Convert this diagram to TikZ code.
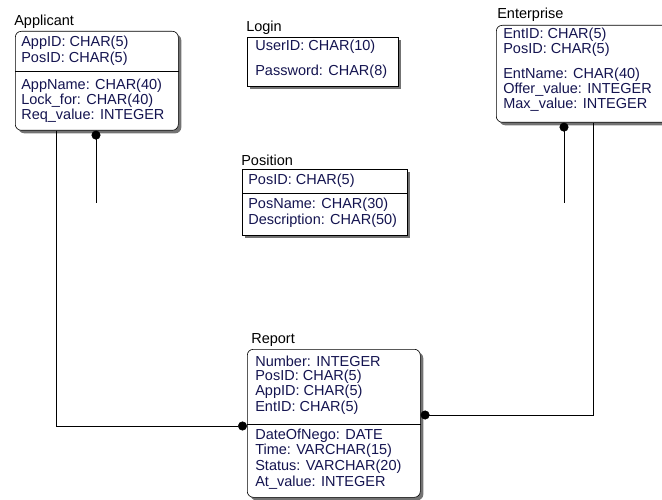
\documentclass[tikz,border=0pt]{standalone}
\usepackage{fontspec}
\setmainfont{Liberation Sans}
\usetikzlibrary{arrows.meta,shadows}
\definecolor{fieldblue}{RGB}{20,20,80}
\tikzset{
  entbox/.style={draw,fill=white,anchor=north west,inner sep=0pt,
    general shadow={fill=black!55,shadow xshift=3pt,shadow yshift=-3pt}},
  depbox/.style={entbox,rounded corners=6pt},
  enttitle/.style={anchor=west,inner sep=0pt,font=\fontsize{14.5}{16}\selectfont},
  field/.style={anchor=west,inner sep=0pt,text=fieldblue,font=\fontsize{14.5}{16}\selectfont},
  bigdot/.tip={Circle[length=9pt]}
}
\begin{document}
\begin{tikzpicture}[x=1pt,y=-1pt,>=latex,line width=0.6pt]
\useasboundingbox (0,0) rectangle (662,500);

% entity boxes
\node[depbox,minimum width=163pt,minimum height=99pt] (applicant) at (15,31) {};
\node[entbox,minimum width=151pt,minimum height=49pt] (login) at (247,37) {};
\node[entbox,minimum width=165pt,minimum height=66pt] (position) at (242,169) {};
\node[depbox,minimum width=180pt,minimum height=97pt] (enterprise) at (496,25) {};
\node[depbox,minimum width=173pt,minimum height=148pt] (report) at (247,349) {};

% titles
\node[enttitle] (applicantT) at (14,22) {Applicant};
\node[enttitle] (loginT) at (246,28) {Login};
\node[enttitle] (positionT) at (241,160) {Position};
\node[enttitle] (enterpriseT) at (497,15) {Enterprise};
\node[enttitle] (reportT) at (251,340) {Report};

% key / non-key separators
\coordinate (appSep) at (0,71);
\coordinate (posSep) at (0,193);
\coordinate (repSep) at (0,424);
\draw (applicant.west |- appSep) -- (applicant.east |- appSep);
\draw (position.west |- posSep) -- (position.east |- posSep);
\draw (report.west |- repSep) -- (report.east |- repSep);

% attributes
\foreach \y/\txt [count=\i] in {43/AppID: CHAR(5),59/PosID: CHAR(5),86/AppName: CHAR(40),
    101/Lock\_for: CHAR(40),116/Req\_value: INTEGER}
{
    \node[field] (app\i) at (21,\y) {\txt};
}
\foreach \y/\txt [count=\i] in {47/UserID: CHAR(10),72/Password: CHAR(8)}
{
    \node[field] (log\i) at (255,\y) {\txt};
}
\foreach \y/\txt [count=\i] in {181/PosID: CHAR(5),205/PosName: CHAR(30),221/Description: CHAR(50)}
{
    \node[field] (pos\i) at (248,\y) {\txt};
}
\foreach \y/\txt [count=\i] in {35/EntID: CHAR(5),50/PosID: CHAR(5),75/EntName: CHAR(40),
    90/Offer\_value: INTEGER,105/Max\_value: INTEGER}
{
    \node[field] (ent\i) at (503,\y) {\txt};
}
\foreach \y/\txt [count=\i] in {361/Number: INTEGER,377/PosID: CHAR(5),392/AppID: CHAR(5),
    408/EntID: CHAR(5),436/DateOfNego: DATE,451/Time: VARCHAR(15),467/Status: VARCHAR(20),
    483/At\_value: INTEGER}
{
    \node[field] (rep\i) at (255,\y) {\txt};
}

% relationships
\coordinate (appA) at (56,426);
\coordinate (appB) at (96,203);
\coordinate (entA) at (564,203);
\coordinate (entB) at (593,415);
\draw[-bigdot] (applicant.south -| appA) |- (report.west |- appA);
\draw[bigdot-] (applicant.south -| appB) -- (appB);
\draw[bigdot-] (enterprise.south -| entA) -- (entA);
\draw[-bigdot] (enterprise.south -| entB) |- (report.east |- entB);
\end{tikzpicture}
\end{document}
